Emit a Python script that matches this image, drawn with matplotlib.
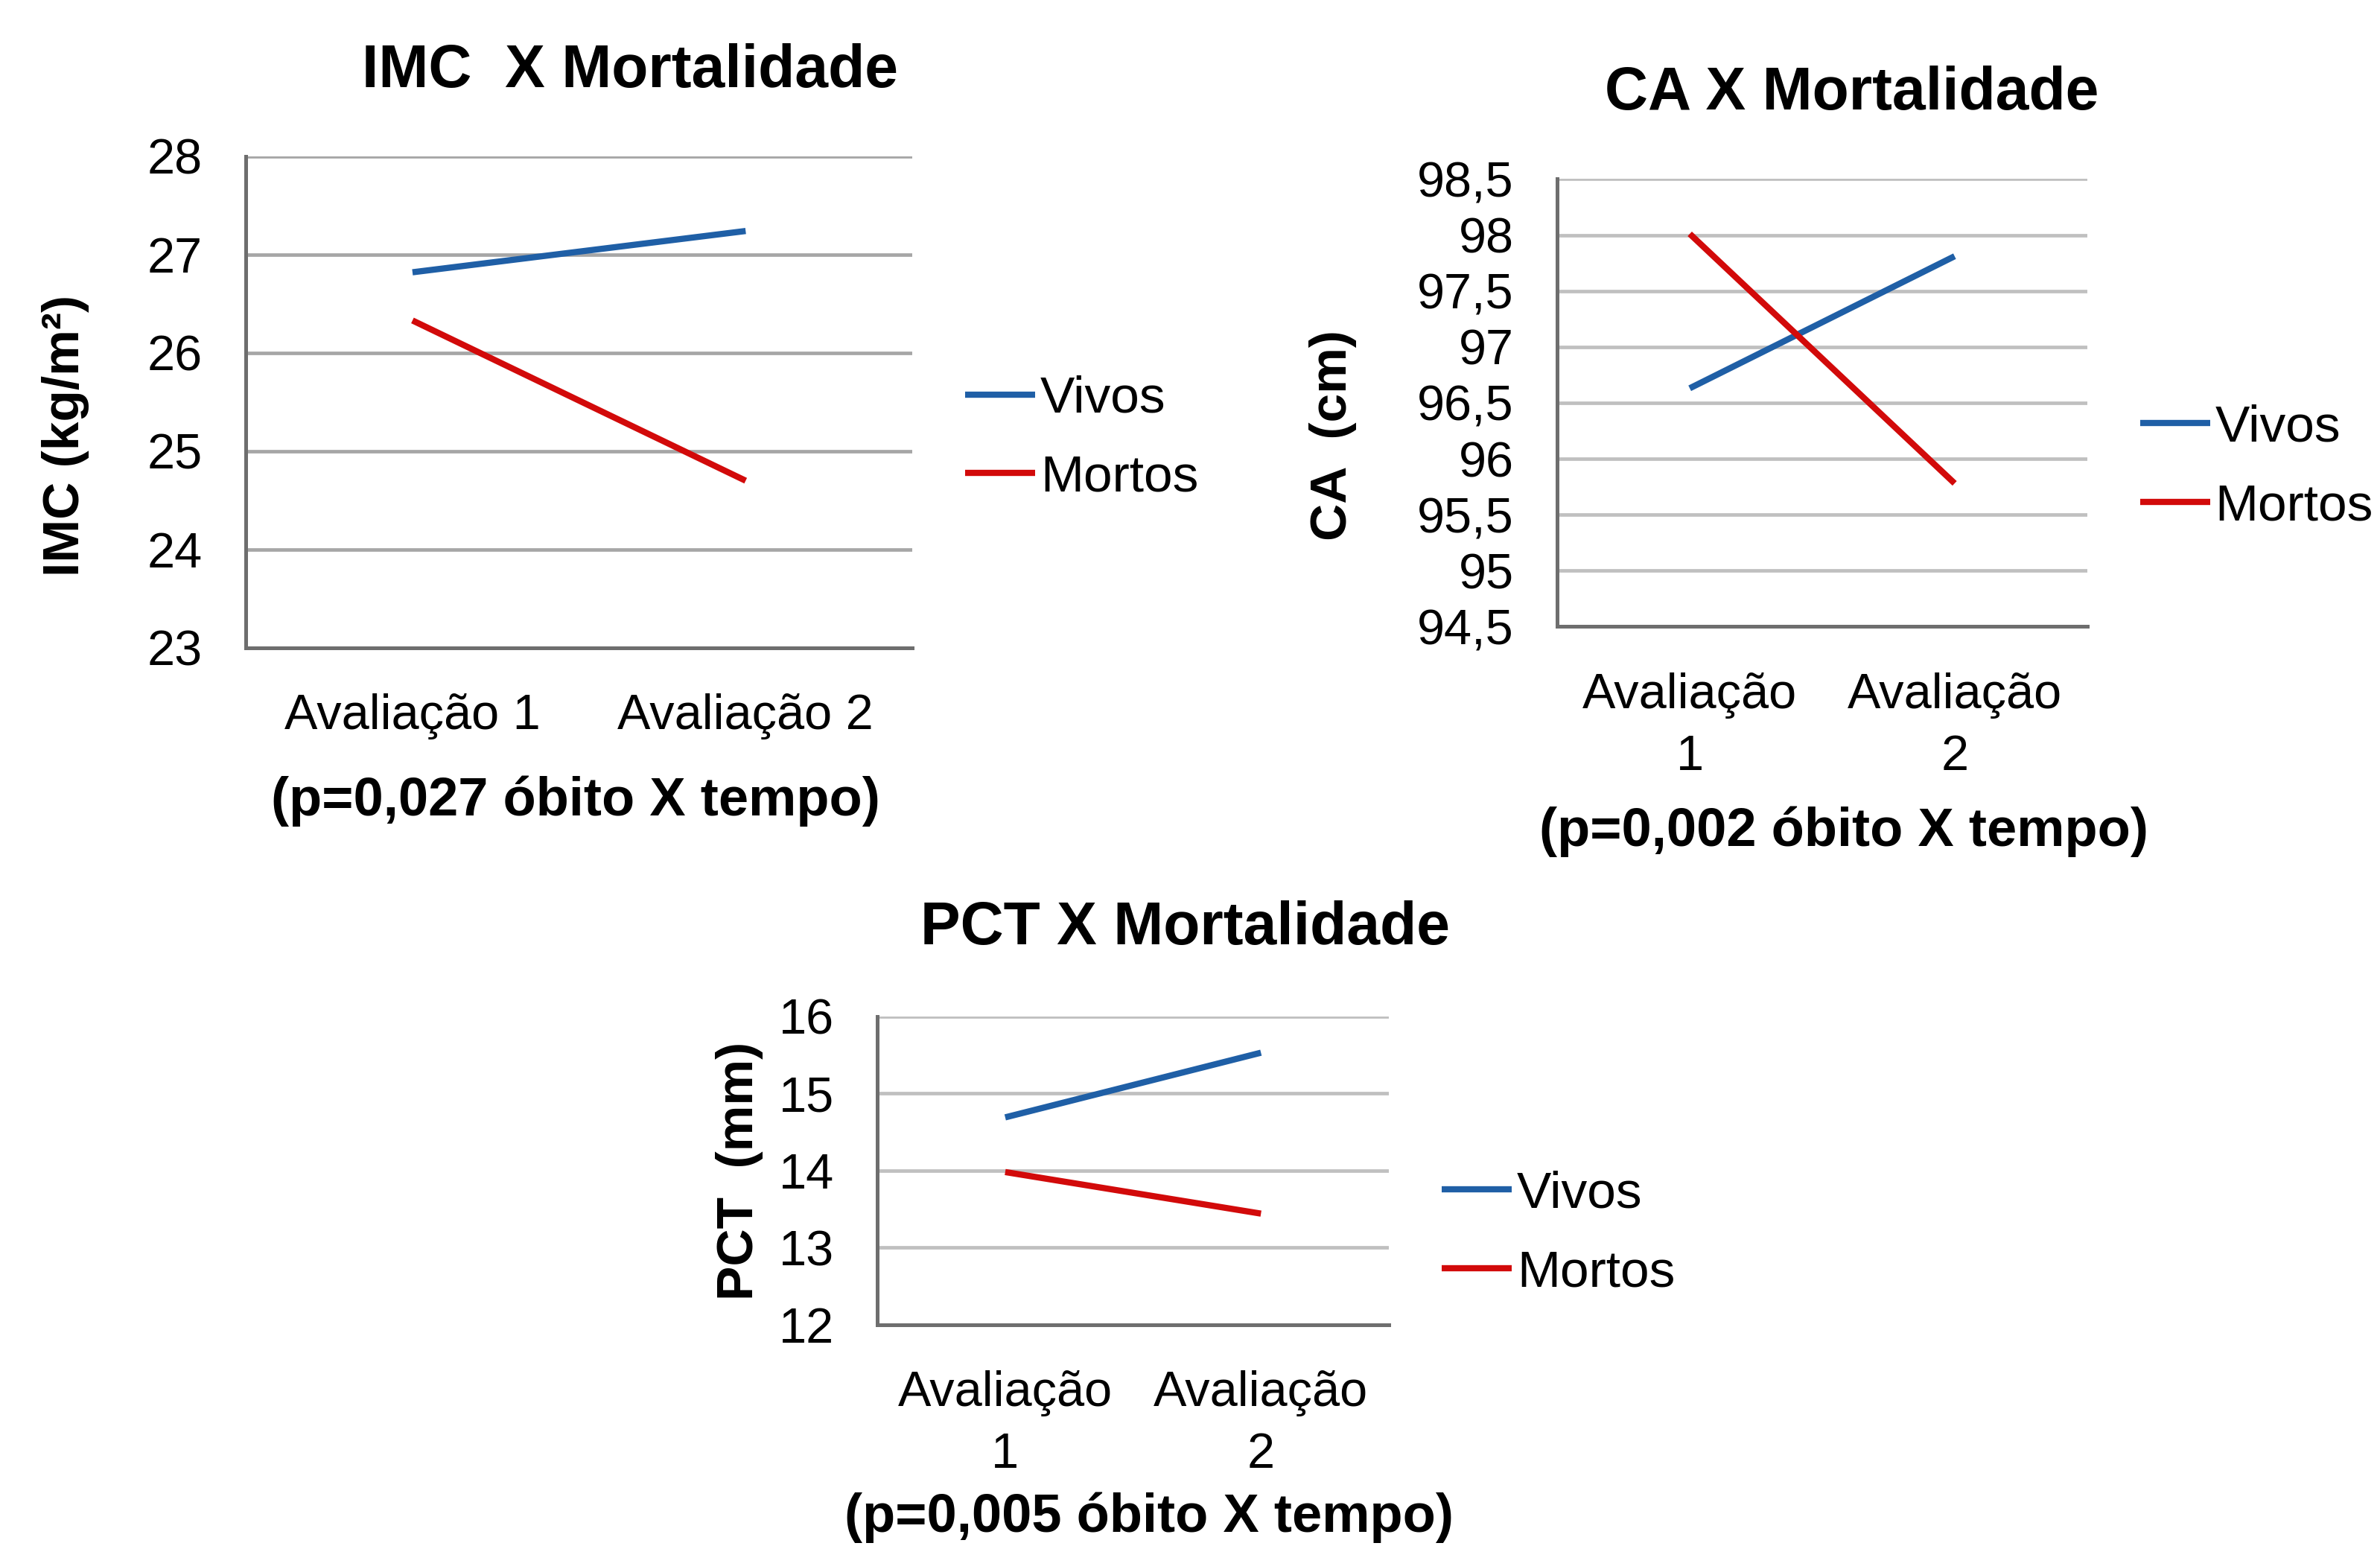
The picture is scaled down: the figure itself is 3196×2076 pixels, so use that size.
import matplotlib
matplotlib.use("Agg")
import matplotlib.pyplot as plt

plt.rcParams['font.family'] = ['Liberation Sans', 'DejaVu Sans']

# data
categories = ["Avaliação 1", "Avaliação 2"]
categories_wrapped = ["Avaliação\n1", "Avaliação\n2"]
series_names = ["Vivos", "Mortos"]

imc_vivos = [26.82, 27.24]
imc_mortos = [26.33, 24.70]
imc_ticks = [23, 24, 25, 26, 27, 28]
imc_ticklabels = ["23", "24", "25", "26", "27", "28"]

ca_vivos = [96.63, 97.81]
ca_mortos = [98.01, 95.78]
ca_ticks = [94.5, 95, 95.5, 96, 96.5, 97, 97.5, 98, 98.5]
ca_ticklabels = ["94,5", "95", "95,5", "96", "96,5", "97", "97,5", "98", "98,5"]

pct_vivos = [14.69, 15.53]
pct_mortos = [13.98, 13.44]
pct_ticks = [12, 13, 14, 15, 16]
pct_ticklabels = ["12", "13", "14", "15", "16"]

blue = "#1F5FA6"
red = "#D20A0A"

W, H = 1568.0, 1019.0


def fx(x):
    return x / W


def fy(y):
    return 1 - y / H


def panel(fig, box, vivos, mortos, ticks, ticklabels, xlabels, grid_color,
          title, title_xy, ylabel, ylabel_xy, note, note_xy, leg_xy):
    left, top, right, bottom = box
    ax = fig.add_axes([fx(left), fy(bottom), fx(right) - fx(left), (bottom - top) / H])
    x = [0, 1]
    l1, = ax.plot(x, vivos, color=blue, lw=3.0, solid_capstyle='butt')
    l2, = ax.plot(x, mortos, color=red, lw=3.0, solid_capstyle='butt')
    ax.set_xlim(-0.5, 1.5)
    ax.set_ylim(ticks[0], ticks[-1])
    ax.set_yticks(ticks)
    ax.set_yticklabels(ticklabels)
    ax.set_xticks(x)
    ax.set_xticklabels(xlabels, linespacing=1.45)
    ax.tick_params(axis='y', length=0, pad=21, labelsize=24)
    ax.tick_params(axis='x', length=0, pad=22, labelsize=24)
    ax.yaxis.grid(True, color=grid_color, lw=1.7)
    ax.set_axisbelow(True)
    for s in ['top', 'right']:
        ax.spines[s].set_visible(False)
    for s in ['left', 'bottom']:
        ax.spines[s].set_color('#6E6E6E')
        ax.spines[s].set_linewidth(1.8)
    fig.text(fx(title_xy[0]), fy(title_xy[1]), title, ha='center', va='center',
             fontsize=29, fontweight='bold')
    fig.text(fx(ylabel_xy[0]), fy(ylabel_xy[1]), ylabel, ha='center', va='center',
             rotation=90, fontsize=25, fontweight='bold')
    fig.text(fx(note_xy[0]), fy(note_xy[1]), note, ha='center', va='center',
             fontsize=26, fontweight='bold')
    fig.legend([l1, l2], series_names, loc='center left',
               bbox_to_anchor=(fx(leg_xy[0]), fy(leg_xy[1])),
               frameon=False, fontsize=25, handlelength=1.35, handletextpad=0.1,
               labelspacing=0.6, borderpad=0, borderaxespad=0)
    return ax


fig = plt.figure(figsize=(15.98, 10.38), dpi=200)

panel(fig, (162, 103, 601, 427), imc_vivos, imc_mortos, imc_ticks, imc_ticklabels,
      categories, '#A6A6A6', "IMC  X Mortalidade", (415, 47),
      "IMC (kg/m²)", (43, 287), "(p=0,027 óbito X tempo)", (379, 528), (636, 289))

panel(fig, (1026, 118, 1375, 413), ca_vivos, ca_mortos, ca_ticks, ca_ticklabels,
      categories_wrapped, '#C0C0C0', "CA X Mortalidade", (1220, 62),
      "CA  (cm)", (878, 287), "(p=0,002 óbito X tempo)", (1215, 548), (1410, 308))

panel(fig, (578, 670, 915, 873), pct_vivos, pct_mortos, pct_ticks, pct_ticklabels,
      categories_wrapped, '#C0C0C0', "PCT X Mortalidade", (781, 612),
      "PCT  (mm)", (487, 772), "(p=0,005 óbito X tempo)", (757, 1000), (950, 813))

fig.savefig("out.png", dpi=200, facecolor='white')
